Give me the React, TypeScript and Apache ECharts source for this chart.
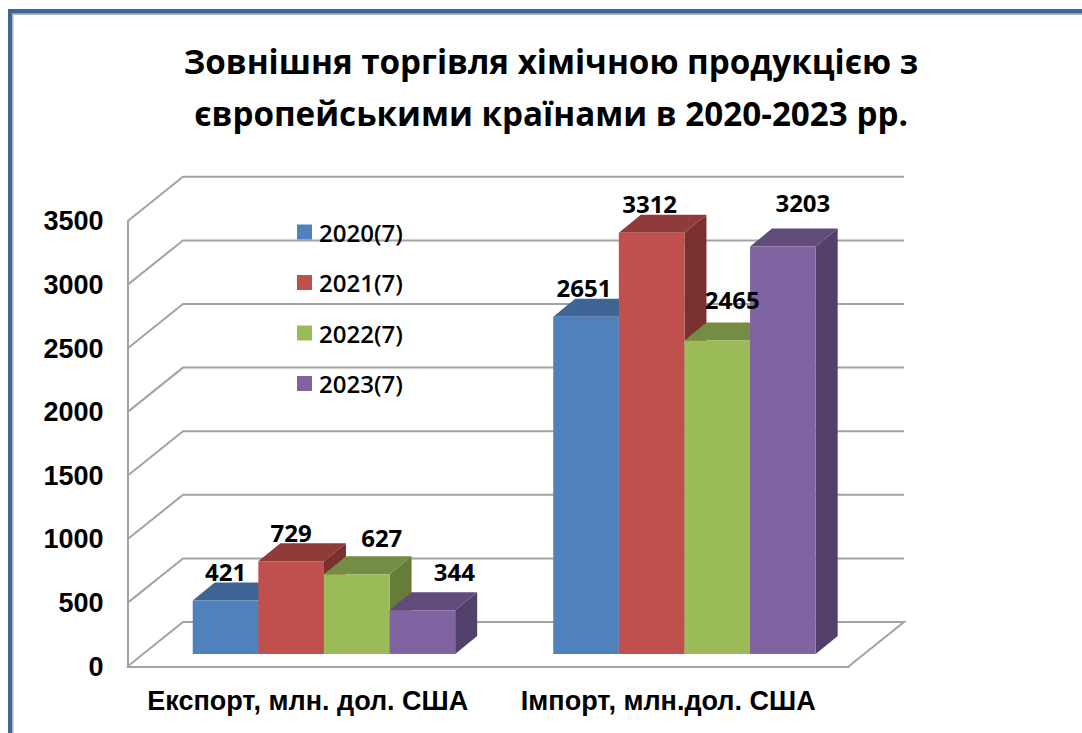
import React, { useEffect, useRef } from "react";
import * as echarts from "echarts";

const titleText = "Зовнішня торгівля хімічною продукцією з\nєвропейськими країнами в 2020-2023 рр.";
const categories = ["Експорт, млн. дол. США", "Імпорт, млн.дол. США"];
const years = ["2020(7)", "2021(7)", "2022(7)", "2023(7)"];
const v2020 = [421, 2651];
const v2021 = [729, 3312];
const v2022 = [627, 2465];
const v2023 = [344, 3203];
const seriesValues = [v2020, v2021, v2022, v2023];
const yTicks = [0, 500, 1000, 1500, 2000, 2500, 3000, 3500];

const frontColors = ["#4F81BD", "#C0504D", "#9BBB59", "#8064A2"];
const topColors = ["#3E6594", "#8F3B39", "#748C43", "#604B7B"];
const sideColors = ["#355580", "#7A302E", "#667C39", "#533F6C"];
const labelNudges = [
  [[0, 0], [0, 0], [25, -8], [32, -10]],
  [[-2, 0], [-2, 0], [15, -12], [20, -15]],
];

const WALL_DX = 55.5;
const WALL_DY = 44.5;
const BAR_DX = 16.2;
const BAR_DY = 12.5;
const DEPTH_DX = 22;
const DEPTH_DY = 18;
const BAR_FRACTION = 0.182;
const GRID_COLOR = "#A3A3A3";
const LABEL_FONT = '"Open Sans", sans-serif';
const AXIS_FONT = '"Liberation Sans", Arial, sans-serif';

function barGeometry(api: any, yearIndex: number) {
  const cat = api.value(0);
  const val = api.value(1);
  const base = api.coord([cat, 0]);
  const top = api.coord([cat, val]);
  const w = api.size([1, 0])[0] * BAR_FRACTION;
  const x0 = base[0] + BAR_DX + (yearIndex - 2) * w;
  return { x0, x1: x0 + w, yBase: base[1] - BAR_DY, yTop: top[1] - BAR_DY, w };
}

export default function App() {
  const ref = useRef<HTMLDivElement>(null);
  useEffect(() => {
    const chart = echarts.init(ref.current!, null, { renderer: "svg" });

    const gridSeries = {
      type: "custom",
      silent: true,
      z: 1,
      clip: false,
      data: yTicks.map((t) => [0, t]),
      encode: { x: 0, y: 1 },
      renderItem: (params: any, api: any) => {
        const cs = params.coordSys;
        const y = api.coord([0, api.value(1)])[1];
        const left = cs.x;
        const right = cs.x + cs.width;
        const points = [
          [left, y],
          [left + WALL_DX, y - WALL_DY],
          [right + WALL_DX, y - WALL_DY],
        ];
        if (api.value(1) === 0) points.push([right, y]);
        return {
          type: "polyline",
          shape: { points },
          style: { stroke: GRID_COLOR, lineWidth: 2, fill: "none" },
        };
      },
    };

    const barSeries = years.map((name, i) => ({
      type: "custom",
      name,
      z: 2,
      clip: false,
      itemStyle: { color: frontColors[i] },
      data: categories.map((_, c) => [c, seriesValues[i][c]]),
      encode: { x: 0, y: 1 },
      renderItem: (_p: any, api: any) => {
        const { x0, x1, yBase, yTop } = barGeometry(api, i);
        return {
          type: "group",
          children: [
            {
              type: "polygon",
              shape: {
                points: [
                  [x1, yTop],
                  [x1 + DEPTH_DX, yTop - DEPTH_DY],
                  [x1 + DEPTH_DX, yBase - DEPTH_DY],
                  [x1, yBase],
                ],
              },
              style: { fill: sideColors[i] },
            },
            {
              type: "polygon",
              shape: {
                points: [
                  [x0, yTop],
                  [x0 + DEPTH_DX, yTop - DEPTH_DY],
                  [x1 + DEPTH_DX, yTop - DEPTH_DY],
                  [x1, yTop],
                ],
              },
              style: { fill: topColors[i] },
            },
            {
              type: "rect",
              shape: { x: x0, y: yTop, width: x1 - x0, height: yBase - yTop },
              style: { fill: frontColors[i] },
            },
          ],
        };
      },
    }));

    const labelData: number[][] = [];
    categories.forEach((_, c) => {
      years.forEach((_y, i) => labelData.push([c, seriesValues[i][c], i]));
    });
    const labelSeries = {
      type: "custom",
      silent: true,
      z: 5,
      clip: false,
      data: labelData,
      encode: { x: 0, y: 1 },
      renderItem: (_p: any, api: any) => {
        const i = api.value(2);
        const c = api.value(0);
        const { x0, x1, yTop } = barGeometry(api, i);
        const nudge = labelNudges[c][i];
        return {
          type: "text",
          x: (x0 + x1) / 2 + nudge[0],
          y: yTop - DEPTH_DY - 11 + nudge[1],
          style: {
            text: String(api.value(1)),
            fill: "#000",
            font: `bold 24px ${LABEL_FONT}`,
            textAlign: "center",
            textVerticalAlign: "middle",
          },
        };
      },
    };

    chart.setOption({
      animation: false,
      backgroundColor: "#fff",
      title: {
        text: titleText,
        left: 546,
        textAlign: "center",
        top: 30,
        textStyle: {
          color: "#000",
          fontFamily: LABEL_FONT,
          fontWeight: "bold",
          fontSize: 33.2,
          lineHeight: 52,
        },
      },
      legend: {
        show: true,
        orient: "vertical",
        left: 292,
        top: 212,
        itemWidth: 15,
        itemHeight: 15,
        itemGap: 20.5,
        icon: "rect",
        data: years,
        selectedMode: false,
        textStyle: {
          color: "#000",
          fontFamily: LABEL_FONT,
          fontSize: 24,
          fontWeight: 600,
          padding: [0, 0, 0, 2],
          lineHeight: 30,
        },
      },
      grid: { left: 127.5, top: 221.3, width: 721, height: 445.2, containLabel: false },
      xAxis: {
        type: "category",
        data: categories,
        axisLine: { show: true, lineStyle: { color: GRID_COLOR, width: 2 } },
        axisTick: { show: false },
        axisLabel: {
          color: "#000",
          fontFamily: AXIS_FONT,
          fontWeight: "bold",
          fontSize: 27,
          margin: 21,
          interval: 0,
        },
      },
      yAxis: {
        type: "value",
        min: 0,
        max: 3500,
        interval: 500,
        axisLine: { show: true, lineStyle: { color: GRID_COLOR, width: 2 } },
        axisTick: { show: false },
        splitLine: { show: false },
        axisLabel: {
          color: "#000",
          fontFamily: AXIS_FONT,
          fontWeight: "bold",
          fontSize: 27,
          margin: 24,
          formatter: (v: number) => String(v),
        },
      },
      graphic: [
        { type: "rect", shape: { x: 8, y: 13, width: 1074, height: 2 }, style: { fill: "#B5B5B5" }, z: 10 },
        { type: "rect", shape: { x: 12, y: 13, width: 1.5, height: 720 }, style: { fill: "#B5B5B5" }, z: 10 },
        { type: "rect", shape: { x: 8, y: 9, width: 1074, height: 4.3 }, style: { fill: "#3D6699" }, z: 11 },
        { type: "rect", shape: { x: 8, y: 9, width: 4, height: 724 }, style: { fill: "#3D6699" }, z: 11 },
      ],
      series: [gridSeries, ...barSeries, labelSeries],
    });
    return () => chart.dispose();
  }, []);
  return (
    <div
      ref={ref}
      style={{ position: "fixed", left: 0, top: 0, width: 1082, height: 733, background: "#fff" }}
    />
  );
}
